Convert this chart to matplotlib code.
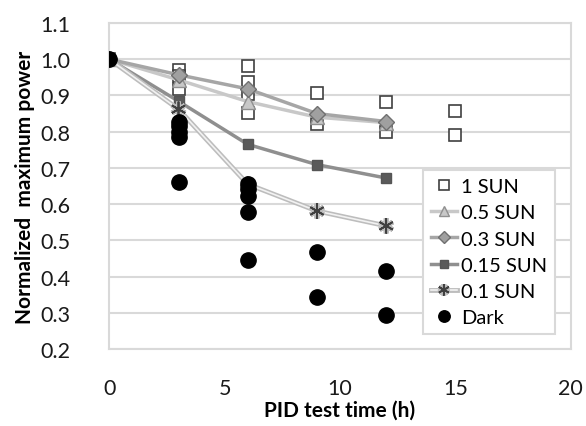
import matplotlib
matplotlib.use("Agg")
import matplotlib.pyplot as plt
import matplotlib.patheffects as pe

plt.rcParams['font.family'] = ['Lato', 'DejaVu Sans']

# 1 SUN (scatter only)
sun1_x = [0, 3, 3, 3, 6, 6, 6, 6, 9, 9, 12, 12, 15, 15]
sun1_y = [1.0, 0.969, 0.955, 0.919, 0.98, 0.937, 0.905, 0.852, 0.907, 0.821, 0.883, 0.80, 0.856, 0.79]

time_x = [0, 3, 6, 9, 12]
sun05_y = [1.0, 0.943, 0.883, 0.84, 0.825]
sun03_y = [1.0, 0.957, 0.918, 0.85, 0.828]
sun015_y = [1.0, 0.884, 0.765, 0.709, 0.672]
sun01_y = [1.0, 0.862, 0.655, 0.581, 0.54]

dark_x = [0, 3, 3, 3, 3, 3, 6, 6, 6, 6, 6, 9, 9, 12, 12]
dark_y = [1.0, 0.827, 0.815, 0.80, 0.786, 0.66, 0.655, 0.643, 0.623, 0.579, 0.447, 0.467, 0.343, 0.415, 0.293]

fig = plt.figure(figsize=(5.86, 4.27), dpi=100)
ax = fig.add_axes([0.1865, 0.1803, 0.7875, 0.7635])

grid_c = '#d9d9d9'
ax.set_xlim(0, 20)
ax.set_ylim(0.2, 1.1)
ax.set_yticks([0.2, 0.3, 0.4, 0.5, 0.6, 0.7, 0.8, 0.9, 1.0, 1.1])
ax.set_yticklabels(['0.2', '0.3', '0.4', '0.5', '0.6', '0.7', '0.8', '0.9', '1.0', '1.1'])
ax.set_xticks([0, 5, 10, 15, 20])
ax.yaxis.grid(True, color=grid_c, linewidth=1.5)
ax.set_axisbelow(True)
for s in ax.spines.values():
    s.set_color(grid_c)
    s.set_linewidth(1.5)
ax.tick_params(axis='both', length=0, labelsize=15.5, colors='#1a1a1a')
ax.tick_params(axis='y', pad=28)
ax.tick_params(axis='x', pad=21)

ax.plot(sun1_x, sun1_y, linestyle='none', marker='s', markersize=9,
        markerfacecolor='white', markeredgecolor='#404040', markeredgewidth=1.2,
        label='1 SUN', zorder=3)
ax.plot(time_x, sun05_y, color='#c8c8c8', linewidth=2.5, marker='^', markersize=10,
        markerfacecolor='#c8c8c8', markeredgecolor='#909090', markeredgewidth=1,
        label='0.5 SUN', zorder=4)
ax.plot(time_x, sun03_y, color='#a6a6a6', linewidth=2.5, marker='D', markersize=8,
        markerfacecolor='#a0a0a0', markeredgecolor='#707070', markeredgewidth=1,
        label='0.3 SUN', zorder=4)
ax.plot(time_x, sun015_y, color='#8f8f8f', linewidth=2.5, marker='s', markersize=7.5,
        markerfacecolor='#5a5a5a', markeredgecolor='#555555', markeredgewidth=1,
        label='0.15 SUN', zorder=4)
ax.plot(time_x, sun01_y, color='#f2f2f2', linewidth=1.2, marker=(6, 2, 0), markersize=11,
        markeredgecolor='#404040', markeredgewidth=1.3,
        label='0.1 SUN', zorder=4,
        path_effects=[pe.Stroke(linewidth=3.5, foreground='#bdbdbd'), pe.Normal()])
ax.plot(dark_x, dark_y, linestyle='none', marker='o', markersize=11,
        markerfacecolor='black', markeredgecolor='black', label='Dark', zorder=5)

ax.set_xlabel('PID test time (h)', fontsize=15, fontweight='bold', labelpad=1)
ax.set_ylabel('Normalized  maximum power', fontsize=15, fontweight='bold', labelpad=4)

leg = ax.legend(loc='lower right', bbox_to_anchor=(0.988, 0.015), fontsize=14.5,
                frameon=True, fancybox=False, edgecolor=grid_c, framealpha=1,
                handlelength=1.3, handletextpad=0.2, borderpad=0.4, labelspacing=0.45,
                markerscale=0.75)
leg.get_frame().set_linewidth(1.5)

fig.savefig('out.png', dpi=100)
